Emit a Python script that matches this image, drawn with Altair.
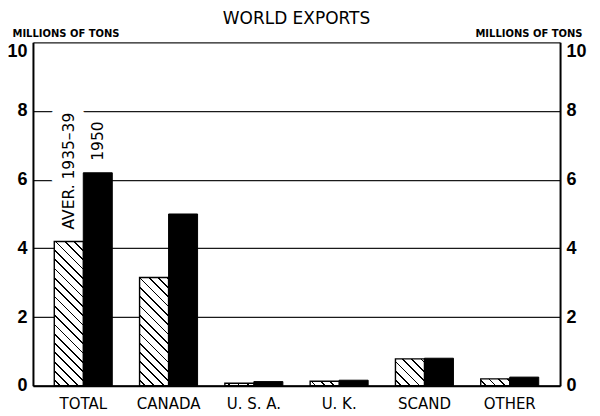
import math
import altair as alt
import pandas as pd

categories = ["TOTAL", "CANADA", "U. S. A.", "U. K.", "SCAND", "OTHER"]
series = ["AVER. 1935–39", "1950"]
aver_1935_39 = [4.2, 3.15, 0.07, 0.13, 0.78, 0.2]
exports_1950 = [6.2, 5.0, 0.12, 0.16, 0.8, 0.25]
y_ticks = [0, 2, 4, 6, 8, 10]

rows = []
for c, a, b in zip(categories, aver_1935_39, exports_1950):
    rows.append({"cat": c, "series": series[0], "value": a})
    rows.append({"cat": c, "series": series[1], "value": b})
df = pd.DataFrame(rows)

FONT = "DejaVu Sans"
NUM_FONT = "Liberation Sans"

W, H = 528, 344
PI, PO = 0.32, 0.25
step = W / (len(categories) - PI + 2 * PO)
bar_w = step * (1 - PI) / 2
px_per_unit = H / 10.0


def hatch(v, period=6.6, lw=1.3):
    w = bar_w
    h = max(v * px_per_unit, 0.5)
    k = (w + h) / (w * w + h * h)
    D = (w + h) / math.sqrt(2)
    stops = [alt.GradientStop(offset=0, color="white")]
    i = 0
    while True:
        c = (i * period + period * 0.6) / D
        a = c - lw / 2 / D
        b = c + lw / 2 / D
        if a >= 1:
            break
        a = max(a, 0)
        b = min(b, 1)
        for off, col in ((a, "white"), (a, "black"), (b, "black"), (b, "white")):
            stops.append(alt.GradientStop(offset=round(off, 5), color=col))
        i += 1
    stops.append(alt.GradientStop(offset=1, color="white"))
    return alt.LinearGradient(gradient="linear", stops=stops,
                              x1=0, y1=1, x2=round(k * w, 6), y2=round(1 - k * h, 6))


x_enc = alt.X("cat:N", sort=categories,
              scale=alt.Scale(domain=categories, paddingInner=PI, paddingOuter=PO),
              axis=alt.Axis(title=None, labelAngle=0, labelFont=FONT, labelFontSize=15,
                            labelColor="black", labelPadding=11, ticks=False,
                            domainColor="black", domainWidth=2, grid=False))
off_enc = alt.XOffset("series:N", sort=series,
                      scale=alt.Scale(domain=series, paddingInner=0, paddingOuter=0))
yscale = alt.Scale(domain=[0, 10], nice=False, zero=True)

top_label_baseline = {"condition": {"test": "datum.value == 10", "value": "top"},
                      "value": "middle"}

axis_common = dict(values=y_ticks, ticks=False, domainColor="black", domainWidth=2,
                   labelFont=NUM_FONT, labelFontSize=18, labelFontWeight="bold",
                   labelColor="black", labelPadding=6, labelBaseline=top_label_baseline,
                   title="MILLIONS OF TONS",
                   titleAngle=0, titleY=-6, titleBaseline="alphabetic", titleFont=FONT,
                   titleFontSize=10, titleFontWeight="bold", titleColor="black")
left_axis = alt.Axis(orient="left", grid=True, gridColor="#1a1a1a", gridWidth=1.3,
                     titleX=-21, titleAlign="left", **axis_common)
right_axis = alt.Axis(orient="right", grid=False, titleX=22, titleAlign="right",
                      **axis_common)

label_data = alt.Chart(df).transform_filter(alt.datum.cat == categories[0])

halo = label_data.mark_text(angle=270, align="left", baseline="middle", dx=12,
                            font=FONT, fontSize=15.5, color="white", stroke="white",
                            strokeJoin="round").encode(
    x=x_enc, xOffset=off_enc, y=alt.Y("value:Q", scale=yscale, axis=None),
    text="series:N",
    strokeWidth=alt.condition(alt.datum.series == series[0], alt.value(22), alt.value(12)))

black = alt.Chart(df).transform_filter(alt.datum.series == series[1]).mark_bar(
    color="black", stroke="black", strokeWidth=1).encode(
    x=x_enc, xOffset=off_enc, y=alt.Y("value:Q", scale=yscale, axis=left_axis))

hatched = []
for idx, (c, v) in enumerate(zip(categories, aver_1935_39)):
    layer = alt.Chart(df).transform_filter(
        (alt.datum.cat == c) & (alt.datum.series == series[0])
    ).mark_bar(fill=hatch(v), stroke="black", strokeWidth=1.4).encode(
        x=x_enc, xOffset=off_enc,
        y=alt.Y("value:Q", scale=yscale, axis=right_axis if idx == 0 else None))
    hatched.append(layer)

labels = label_data.mark_text(angle=270, align="left", baseline="middle", dx=12,
                              font=FONT, fontSize=15.5, color="black").encode(
    x=x_enc, xOffset=off_enc, y=alt.Y("value:Q", scale=yscale, axis=None),
    text="series:N")

chart = alt.layer(halo, black, *hatched, labels).resolve_axis(y="independent").properties(
    width=W, height=H,
    title=alt.TitleParams(text="WORLD EXPORTS", font=FONT, fontSize=17, fontWeight="normal",
                          color="black", anchor="middle", frame="group", offset=0),
    autosize=alt.AutoSizeParams(type="none"),
    padding={"left": 25, "top": 34, "right": 32, "bottom": 30},
).configure_view(strokeWidth=0)

chart.save("out.html", embed_options={"renderer": "svg", "actions": False})
